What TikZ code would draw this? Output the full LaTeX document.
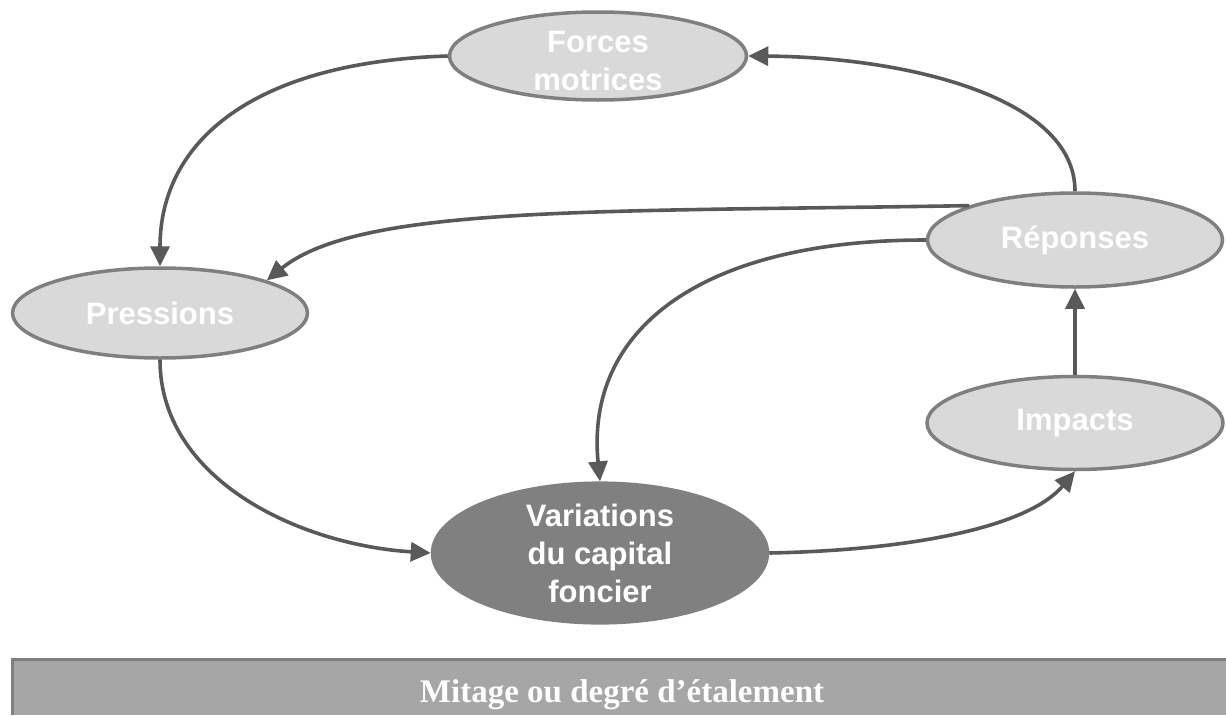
\documentclass[tikz,border=0pt]{standalone}
\usepackage{fontspec}
\setmainfont{Liberation Sans}
\newfontfamily\barfont{Liberation Serif}
\usetikzlibrary{shapes.geometric,arrows.meta}
\definecolor{arrowgray}{HTML}{595959}
\definecolor{edgegray}{HTML}{7F7F7F}
\definecolor{fillgray}{HTML}{D9D9D9}
\definecolor{darkfill}{HTML}{808080}
\definecolor{barfill}{HTML}{A6A6A6}
\tikzset{
  oval/.style={ellipse, draw=edgegray, line width=3.5pt, fill=fillgray, inner sep=0pt,
    text=white, align=center, font=\fontsize{31}{38}\selectfont\bfseries},
  darkoval/.style={oval, draw=darkfill, fill=darkfill},
  link/.style={draw=arrowgray, line width=3.6pt, -{Triangle[length=20pt,width=19pt]}}
}
\begin{document}
\begin{tikzpicture}[x=1pt,y=-1pt]
\useasboundingbox (0,0) rectangle (1226,715);
% bottom bar
\fill[barfill] (11,658) rectangle (1226,715);
\draw[edgegray, line width=3.5pt] (12.5,715) -- (12.5,659.5) -- (1226,659.5);
\node[anchor=base, text=white, font=\barfont\fontsize{33}{38}\selectfont\bfseries] (bar) at (622,702) {Mitage ou degré d’étalement};
% nodes
\node[oval, minimum width=297pt, minimum height=88pt] (forces) at (598,56) {};
\node[text=white, align=center, font=\fontsize{31}{38}\selectfont\bfseries] (forcestxt) at (598,61) {Forces\\motrices};
\node[oval, minimum width=295pt, minimum height=94pt] (rep) at (1075,240) {Réponses};
\node[oval, minimum width=295pt, minimum height=90pt] (pres) at (160,313) {Pressions};
\node[oval, minimum width=296pt, minimum height=93pt] (imp) at (1075,423) {Impacts};
\node[darkoval, minimum width=335pt, minimum height=132pt] (var) at (600,553) {Variations\\du capital\\foncier};
% connectors
\draw[link] (forces.west) .. controls (255,62) and (160,140) .. (pres.north);
\draw[link] (rep.north) .. controls (1075,95) and (900,57) .. (forces.east);
\draw[link] (rep.162) .. controls (600,212) and (360,205) .. (pres.17);
\draw[link] (rep.west) .. controls (700,240) and (585,330) .. (var.north);
\draw[link] (pres.south) .. controls (160,480) and (300,545) .. (var.west);
\draw[link] (var.east) .. controls (920,550) and (1030,525) .. (imp.south);
\draw[link] (imp.north) -- (rep.south);
\end{tikzpicture}
\end{document}
